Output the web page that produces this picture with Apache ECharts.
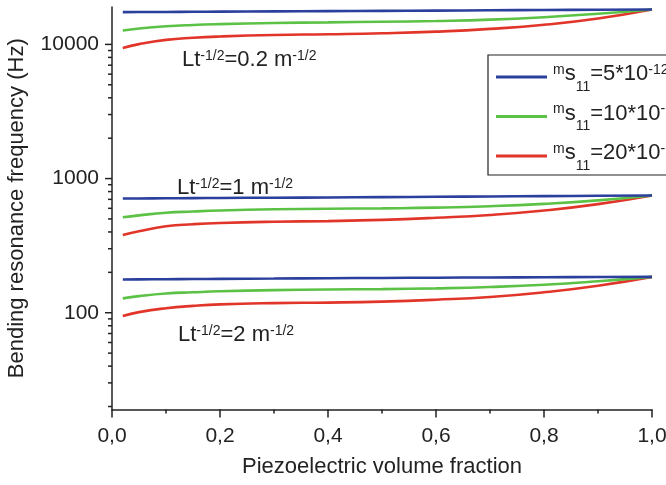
<!DOCTYPE html>
<html><head><meta charset="utf-8">
<script src="https://cdn.jsdelivr.net/npm/echarts@6/dist/echarts.min.js"></script>
<style>html,body{margin:0;padding:0;background:#fff}#c{width:666px;height:485px}</style>
</head><body><div id="c"></div>
<script>
// ---- data ----
const xFraction = [0.02, 0.05, 0.1, 0.15, 0.2, 0.3, 0.4, 0.5, 0.6, 0.7, 0.8, 0.9, 1.0];
// Lt^-1/2 = 0.2
const blueTop  = [17400, 17420, 17450, 17500, 17550, 17620, 17700, 17780, 17860, 17950, 18040, 18120, 18200];
const greenTop = [12700, 13150, 13650, 13950, 14150, 14450, 14600, 14750, 14950, 15300, 15950, 16900, 18200];
const redTop   = [9400, 10050, 10800, 11200, 11450, 11750, 11900, 12100, 12450, 13050, 14000, 15600, 18200];
// Lt^-1/2 = 1
const blueMid  = [710, 711, 713, 715, 717, 720, 723, 727, 731, 735, 740, 744, 748];
const greenMid = [515, 532, 556, 568, 578, 590, 596, 600, 607, 622, 648, 688, 748];
const redMid   = [379, 405, 441, 457, 467, 477, 482, 492, 510, 535, 578, 645, 748];
// Lt^-1/2 = 2
const blueLow  = [177, 177.3, 177.8, 178.3, 178.8, 179.8, 180.8, 181.7, 182.5, 183.2, 184, 184.6, 185];
const greenLow = [128, 133, 139, 142, 144.5, 147.5, 149, 150, 152, 155.5, 161.5, 171.5, 185];
const redLow   = [94.5, 101, 108, 112.5, 115.5, 118, 119, 121, 125, 131, 142, 159, 185];

const seriesNames = ['s5', 's10', 's20'];
const legendLabels = {
  s5:  '{sup|m}{main|s}{sub|11}{main|=5*10}{sup|-12}',
  s10: '{sup|m}{main|s}{sub|11}{main|=10*10}{sup|-12}',
  s20: '{sup|m}{main|s}{sub|11}{main|=20*10}{sup|-12}'
};
const yLabelTicks = [100, 1000, 10000];
const yMinorTicks = [20,30,40,50,60,70,80,90,200,300,400,500,600,700,800,900,2000,3000,4000,5000,6000,7000,8000,9000];
const annotations = [
  {text: '{m|Lt}{s|-1/2}{m|=0.2 m}{s|-1/2}', x: 182, y: 49},
  {text: '{m|Lt}{s|-1/2}{m|=1 m}{s|-1/2}',   x: 177, y: 177},
  {text: '{m|Lt}{s|-1/2}{m|=2 m}{s|-1/2}',   x: 178, y: 324}
];

const colors = {s5: '#2b3f9c', s10: '#5cc246', s20: '#e2352a'};
const FONT = '"Liberation Sans", Arial, sans-serif';

function mk(name, vals) {
  return {
    type: 'line', name: name, smooth: true, symbol: 'none',
    lineStyle: {width: 2.6, color: colors[name]}, itemStyle: {color: colors[name]},
    data: xFraction.map((x, i) => [x, vals[i]]), z: name === 's5' ? 4 : (name === 's10' ? 3 : 2)
  };
}

const chart = echarts.init(document.getElementById('c'), null, {renderer: 'canvas'});
chart.setOption({
  animation: false,
  textStyle: {fontFamily: FONT},
  grid: {left: 112, right: 14, top: 7, bottom: 75.5, outerBoundsMode: 'none', containLabel: false},
  xAxis: {
    type: 'value', min: 0, max: 1, interval: 0.2,
    name: 'Piezoelectric volume fraction', nameLocation: 'middle', nameGap: 46,
    nameTextStyle: {fontSize: 22, color: '#222', fontFamily: FONT},
    axisLine: {lineStyle: {color: '#222', width: 1.5}},
    axisTick: {length: 8, lineStyle: {color: '#222', width: 1.5}},
    minorTick: {show: true, splitNumber: 2, length: 4, lineStyle: {color: '#222', width: 1.5}},
    splitLine: {show: false},
    axisLabel: {fontSize: 21, color: '#222', margin: 16, fontFamily: FONT,
      formatter: v => v.toFixed(1).replace('.', ',')}
  },
  yAxis: {
    type: 'log', logBase: 10, min: 19, max: 19000,
    name: 'Bending resonance frequency (Hz)', nameLocation: 'middle', nameGap: 84,
    nameTextStyle: {fontSize: 22, color: '#222', fontFamily: FONT},
    axisLine: {show: true, lineStyle: {color: '#222', width: 1.5}},
    axisTick: {show: false},
    splitLine: {show: false},
    axisLabel: {fontSize: 21, color: '#222', margin: 13, fontFamily: FONT,
      formatter: v => yLabelTicks.indexOf(Math.round(v)) >= 0 ? String(Math.round(v)) : ''}
  },
  legend: {show: false, data: seriesNames},
  series: [
    mk('s5', blueTop), mk('s10', greenTop), mk('s20', redTop),
    mk('s5', blueMid), mk('s10', greenMid), mk('s20', redMid),
    mk('s5', blueLow), mk('s10', greenLow), mk('s20', redLow)
  ]
});

const els = [];
const x0 = chart.convertToPixel({xAxisIndex: 0}, 0);
yLabelTicks.forEach(v => {
  const y = chart.convertToPixel({yAxisIndex: 0}, v);
  els.push({type: 'line', shape: {x1: x0 - 7, y1: y, x2: x0, y2: y}, style: {stroke: '#222', lineWidth: 1.5}});
});
yMinorTicks.forEach(v => {
  const y = chart.convertToPixel({yAxisIndex: 0}, v);
  els.push({type: 'line', shape: {x1: x0 - 4, y1: y, x2: x0, y2: y}, style: {stroke: '#222', lineWidth: 1.5}});
});
annotations.forEach(a => {
  els.push({type: 'text', x: a.x, y: a.y, style: {
    text: a.text, fill: '#222', fontFamily: FONT, verticalAlign: 'top', align: 'left',
    rich: {
      m: {fontSize: 22, lineHeight: 33, verticalAlign: 'top', fontFamily: FONT, fill: '#222'},
      s: {fontSize: 14, lineHeight: 14, verticalAlign: 'top', fontFamily: FONT, fill: '#222'}
    }
  }});
});
// legend box (drawn as graphic so it can run past the right edge like the reference)
const legendBox = {x: 488, y: 55, w: 260, h: 120, rowY: [77, 116.5, 156]};
els.push({type: 'rect', shape: {x: legendBox.x, y: legendBox.y, width: legendBox.w, height: legendBox.h},
  style: {fill: '#fff', stroke: '#222', lineWidth: 1.2}, z: 10});
seriesNames.forEach((n, i) => {
  const ry = legendBox.rowY[i];
  els.push({type: 'line', shape: {x1: 496, y1: ry, x2: 547, y2: ry}, style: {stroke: colors[n], lineWidth: 2.8}, z: 11});
  els.push({type: 'text', x: 553, y: ry - 14, z: 11, style: {
    text: legendLabels[n], fill: '#222', fontFamily: FONT, verticalAlign: 'top', align: 'left',
    rich: {
      main: {fontSize: 22, lineHeight: 25, verticalAlign: 'top', fontFamily: FONT, fill: '#222'},
      sup: {fontSize: 14, lineHeight: 14, verticalAlign: 'top', fontFamily: FONT, fill: '#222'},
      sub: {fontSize: 14, lineHeight: 14, verticalAlign: 'top', padding: [17, 0, 0, 0], fontFamily: FONT, fill: '#222'}
    }
  }});
});
chart.setOption({graphic: {elements: els}});
</script></body></html>
